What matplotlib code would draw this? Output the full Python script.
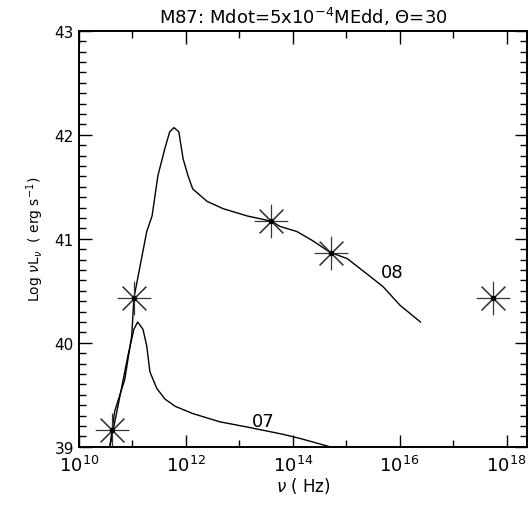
#importing libraries
import matplotlib
matplotlib.use("Agg")
import matplotlib.pyplot as plt
from matplotlib.ticker import MultipleLocator, FixedLocator, NullFormatter

## model spectra (log nu, log nu L_nu)
logn_08 = [10.58, 10.67, 10.86, 10.99, 11.03, 11.27, 11.37, 11.48, 11.61, 11.70,
           11.78, 11.87, 11.95, 12.04, 12.13, 12.40, 12.70, 13.15, 13.60, 13.76,
           14.08, 14.38, 14.70, 15.02, 15.32, 15.69, 16.01, 16.39]
logl_08 = [39.00, 39.34, 39.65, 40.07, 40.43, 41.07, 41.22, 41.61, 41.87, 42.03,
           42.07, 42.03, 41.77, 41.61, 41.48, 41.36, 41.29, 41.22, 41.17, 41.12,
           41.07, 40.98, 40.87, 40.81, 40.69, 40.54, 40.36, 40.20]

logn_07 = [10.58, 10.77, 10.92, 11.03, 11.10, 11.20, 11.27, 11.33, 11.46, 11.61,
           11.80, 12.13, 12.64, 13.15, 13.63, 13.82, 14.14, 14.70]
logl_07 = [39.00, 39.49, 39.88, 40.13, 40.20, 40.13, 39.97, 39.72, 39.56, 39.46,
           39.39, 39.32, 39.24, 39.19, 39.14, 39.12, 39.08, 39.00]

# observed points
logn_obs = [10.62, 11.03, 13.60, 14.71, 17.75]
logl_obs = [39.16, 40.43, 41.17, 40.86, 40.43]

# curve labels
labels = ["08", "07"]
label_x = [15.86, 13.45]
label_y = [40.68, 39.25]


if __name__ == "__main__":
    fig = plt.figure(figsize=(5.29, 5.06), dpi=100)
    ax = fig.add_axes([0.149, 0.115, 0.847, 0.822])

    nu08 = [10 ** v for v in logn_08]
    nu07 = [10 ** v for v in logn_07]
    nuobs = [10 ** v for v in logn_obs]

    ax.plot(nu08, logl_08, color="black", lw=1.0)
    ax.plot(nu07, logl_07, color="black", lw=1.0)
    ax.plot(nuobs, logl_obs, linestyle="none", marker=(8, 2, 0), markersize=24,
            markeredgecolor="#333333", markeredgewidth=0.8)
    ax.plot(nuobs, logl_obs, linestyle="none", marker="o", markersize=3,
            color="black")

    for t, x, y in zip(labels, label_x, label_y):
        ax.text(10 ** x, y, t, fontsize=13, ha="center", va="center")

    ax.set_xscale("log")
    ax.set_xlim(1e10, 10 ** 18.38)
    ax.set_ylim(39, 43)

    ax.xaxis.set_major_locator(FixedLocator([1e10, 1e12, 1e14, 1e16, 1e18]))
    ax.xaxis.set_minor_locator(FixedLocator([1e11, 1e13, 1e15, 1e17]))
    ax.xaxis.set_minor_formatter(NullFormatter())
    ax.set_xticklabels([r"$10^{10}$", r"$10^{12}$", r"$10^{14}$", r"$10^{16}$", r"$10^{18}$"])
    ax.yaxis.set_major_locator(MultipleLocator(1))
    ax.yaxis.set_minor_locator(MultipleLocator(0.1))

    ax.tick_params(which="both", direction="in", top=True, right=True, width=1.0)
    ax.tick_params(which="major", length=9)
    ax.tick_params(which="minor", length=5)
    ax.tick_params(axis="x", labelsize=13, pad=6)
    ax.tick_params(axis="y", labelsize=11)
    for s in ax.spines.values():
        s.set_linewidth(1.4)

    ax.set_title(r"M87: Mdot=5x10$^{-4}$MEdd, $\Theta$=30", fontsize=13, pad=6)
    ax.set_xlabel(r"$\nu$ ( Hz)", fontsize=12, labelpad=0)
    ax.set_ylabel(r"Log $\nu$L$_\nu$  ( erg s$^{-1}$)", fontsize=10, labelpad=6)

    fig.savefig("out.png", dpi=100)
